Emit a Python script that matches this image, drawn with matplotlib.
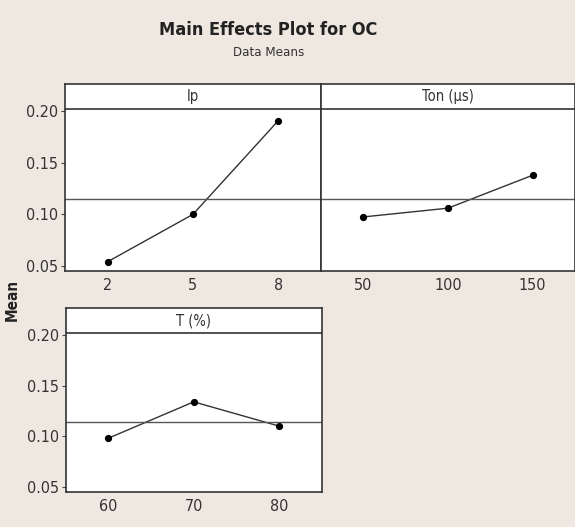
import matplotlib.pyplot as plt
import numpy as np

plt.rcParams['font.family'] = ['Liberation Sans Narrow', 'DejaVu Sans']
plt.rcParams['font.stretch'] = 'condensed'

# factor levels and response means
ip_levels = [2, 5, 8]
ip_means = [0.054, 0.100, 0.191]
ton_levels = [50, 100, 150]
ton_means = [0.0975, 0.106, 0.138]
t_levels = [60, 70, 80]
t_means = [0.098, 0.134, 0.110]
grand_mean = 0.1145

panel_titles = ['Ip', 'Ton (µs)', 'T (%)']
y_ticks = [0.05, 0.10, 0.15, 0.20]

bg = '#efe8e0'
fig = plt.figure(figsize=(5.75, 5.27), dpi=100, facecolor=bg)

ymin, ystrip, ymax = 0.045, 0.2025, 0.2267

def panel(rect, levels, means, title, show_y):
    ax = fig.add_axes(rect)
    ax.set_facecolor('white')
    ax.plot(levels, means, color='#333333', lw=1.0, marker='o',
            markersize=4.2, markerfacecolor='black', markeredgecolor='black')
    ax.axhline(grand_mean, color='#555555', lw=1.0)
    ax.axhline(ystrip, color='#333333', lw=1.2)
    span = levels[-1] - levels[0]
    ax.set_xlim(levels[0] - 0.25 * span, levels[-1] + 0.25 * span)
    ax.set_ylim(ymin, ymax)
    ax.set_xticks(levels)
    ax.set_xticklabels([str(v) for v in levels], fontsize=11.5, color='#333333')
    ax.tick_params(axis='x', length=0, pad=5)
    if show_y:
        ax.set_yticks(y_ticks)
        ax.set_yticklabels(['%.2f' % v for v in y_ticks], fontsize=11.5, color='#333333')
        ax.tick_params(axis='y', length=3, color='#444444', pad=2)
    else:
        ax.set_yticks([])
    for s in ax.spines.values():
        s.set_color('#333333')
        s.set_linewidth(1.2)
    ax.text(np.mean(ax.get_xlim()), (ystrip + ymax) / 2, title, ha='center',
            va='center', fontsize=10.5, color='#333333')
    return ax

panel([0.113, 0.4858, 0.4452, 0.355], ip_levels, ip_means, panel_titles[0], True)
panel([0.5582, 0.4858, 0.4417, 0.355], ton_levels, ton_means, panel_titles[1], False)
panel([0.1143, 0.067, 0.4452, 0.348], t_levels, t_means, panel_titles[2], True)

fig.text(0.467, 0.943, 'Main Effects Plot for OC', ha='center', va='center',
         fontsize=13, fontweight='bold', color='#222222')
fig.text(0.467, 0.900, 'Data Means', ha='center', va='center',
         fontsize=9.5, color='#333333')
fig.text(0.022, 0.43, 'Mean', ha='center', va='center', rotation=90,
         fontsize=11, fontweight='bold', color='#222222')

fig.savefig('out.png', dpi=100, facecolor=bg)
